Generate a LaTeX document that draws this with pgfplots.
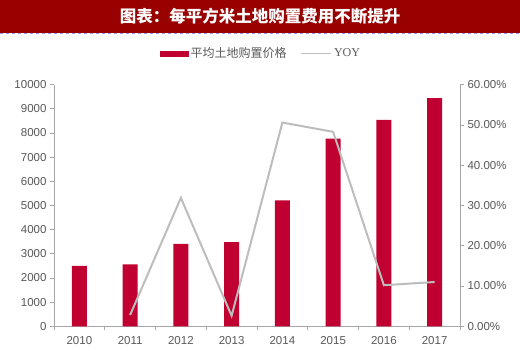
\documentclass[border=0pt]{standalone}
\usepackage{pgfplots}
\pgfplotsset{compat=1.18}
\usepackage{fontspec}
\setmainfont{Liberation Sans}
\newfontfamily\cjk{Noto Sans CJK SC}
\newfontfamily\serifyoy{Liberation Serif}
\definecolor{barred}{HTML}{C00030}
\definecolor{titlered}{HTML}{990000}
\definecolor{yoygray}{HTML}{BDBDBD}
\definecolor{axgray}{HTML}{A6A6A6}
\definecolor{txtgray}{HTML}{595959}
\begin{document}
\begin{tikzpicture}[x=1pt,y=1pt]
\fill[white] (0,0) rectangle (520,351);
\fill[titlered] (0,318) rectangle (520,351);
\draw[blue!40, dashed, line width=0.5pt] (0,318) -- (520,318);
\node[text=white, font=\cjk\bfseries\fontsize{16.5}{18}\selectfont] at (260,335) {图表：每平方米土地购置费用不断提升};
\begin{axis}[
  at={(54pt,24.7pt)}, anchor=south west,
  scale only axis, width=406pt, height=241.6pt,
  xmin=-0.5, xmax=7.5, ymin=0, ymax=10000,
  axis y line*=left, axis x line*=bottom,
  axis line style={axgray, line width=0.8pt},
  xtick={0,...,7},
  xticklabels={2010,2011,2012,2013,2014,2015,2016,2017},
  xticklabel style={yshift=-3pt},
  major x tick style={draw=none},
  minor xtick={-0.5,0.5,...,7.5},
  minor x tick style={axgray, line width=0.8pt},
  ytick={0,1000,...,10000},
  ytick style={axgray, line width=0.8pt},
  tick align=outside,
  major tick length=4pt, minor tick length=4pt,
  scaled y ticks=false,
  yticklabel style={/pgf/number format/1000 sep={}},
  tick label style={text=txtgray, font=\fontsize{11.5}{13}\selectfont},
  /pgf/number format/assume math mode=true,
  ybar, bar width=15pt,
  clip=false,
]
\addplot[fill=barred, draw=none] coordinates {
(0,2500) (1,2560) (2,3410) (3,3480) (4,5210) (5,7770) (6,8540) (7,9440)};
\end{axis}
\begin{axis}[
  at={(54pt,24.7pt)}, anchor=south west,
  scale only axis, width=406pt, height=241.6pt,
  xmin=-0.5, xmax=7.5, ymin=0, ymax=60,
  axis y line*=right, axis x line=none,
  axis line style={axgray, line width=0.8pt},
  ytick={0,10,...,60},
  ytick style={axgray, line width=0.8pt},
  tick align=outside, major tick length=4pt,
  yticklabel={\pgfmathprintnumber[fixed,fixed zerofill,precision=2]{\tick}\%},
  tick label style={text=txtgray, font=\fontsize{11.5}{13}\selectfont},
  /pgf/number format/assume math mode=true,
  legend columns=2,
  legend style={at={(0.51,1.13)}, anchor=center, draw=none, fill=none,
    text=txtgray, font=\fontsize{12}{14}\selectfont,
    /tikz/every even column/.append style={column sep=12pt}},
  clip=false,
]
\addlegendimage{legend image code/.code={\fill[barred] (0pt,-2.5pt) rectangle (28pt,2.5pt);}}
\addlegendentry{\cjk 平均土地购置价格}
\addplot[yoygray, line width=2pt, mark=none,
  legend image code/.code={\draw[yoygray,line width=1.5pt] (0pt,0pt) -- (30pt,0pt);}]
  coordinates {(1,2.8) (2,31.9) (3,2.6) (4,50.6) (5,48.3) (6,10.2) (7,11.0)};
\addlegendentry{\serifyoy YOY}
\end{axis}
\pgfresetboundingbox
\path[use as bounding box] (0,0) rectangle (520,351);
\end{tikzpicture}
\end{document}
